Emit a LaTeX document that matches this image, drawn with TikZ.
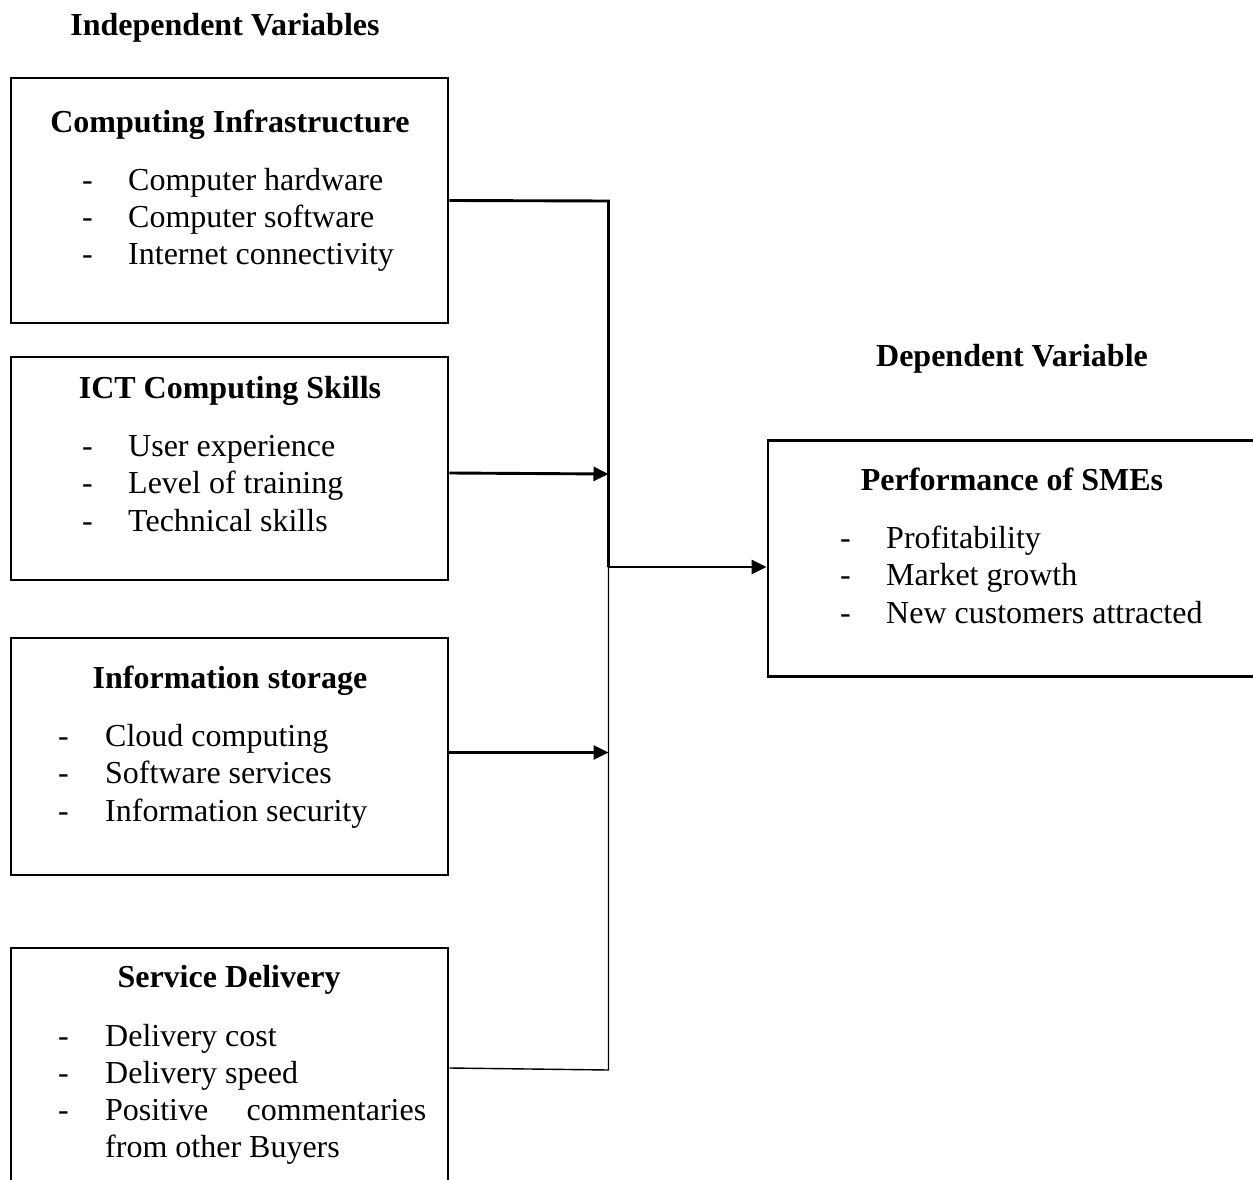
\documentclass[tikz,border=0pt]{standalone}
\usepackage{fontspec}
\setmainfont{Liberation Serif}
\usetikzlibrary{arrows.meta,calc}
\tikzset{
  txt/.style={inner sep=0pt, font=\fontsize{32}{38}\selectfont},
  ttl/.style={txt, anchor=base, font=\fontsize{32}{38}\selectfont\bfseries},
  itm/.style={txt, anchor=base west},
  boxx/.style={draw, line width=2.9pt, rectangle, inner sep=0pt},
  heavy/.style={line width=2.9pt},
  light/.style={line width=1.4pt},
  tip/.style={-{Triangle[length=15pt,width=14pt]}}
}
\begin{document}
\begin{tikzpicture}[x=1pt,y=-1pt]
\useasboundingbox (0,0) rectangle (1253,1180);
\clip (0,0) rectangle (1253,1180);
\fill[white] (0,0) rectangle (1253,1180);

% headings
\node[ttl] (hind) at (225,36) {Independent Variables};
\node[ttl] (hdep) at (1012,366) {Dependent Variable};

% boxes
\node[boxx, minimum width=437pt, minimum height=245pt] (b1) at (229.5,200.5) {};
\node[boxx, minimum width=437pt, minimum height=223pt] (b2) at (229.5,468.5) {};
\node[boxx, minimum width=437pt, minimum height=237pt] (b3) at (229.5,756.5) {};
\node[boxx, minimum width=437pt, minimum height=270pt] (b4) at (229.5,1083) {};
\node[boxx, minimum width=540pt, minimum height=236pt] (b5) at (1038,558.5) {};

% box 1
\node[ttl] (t1) at (230,132) {Computing Infrastructure};
\node[itm] (d11) at (82,190) {-};  \node[itm] (i11) at (128,190) {Computer hardware};
\node[itm] (d12) at (82,227) {-};  \node[itm] (i12) at (128,227) {Computer software};
\node[itm] (d13) at (82,264) {-};  \node[itm] (i13) at (128,264) {Internet connectivity};

% box 2
\node[ttl] (t2) at (230,398) {ICT Computing Skills};
\node[itm] (d21) at (82,456) {-};  \node[itm] (i21) at (128,456) {User experience};
\node[itm] (d22) at (82,493.5) {-};  \node[itm] (i22) at (128,493.5) {Level of training};
\node[itm] (d23) at (82,531) {-};  \node[itm] (i23) at (128,531) {Technical skills};

% box 3
\node[ttl] (t3) at (230,688) {Information storage};
\node[itm] (d31) at (58,746) {-};  \node[itm] (i31) at (105,746) {Cloud computing};
\node[itm] (d32) at (58,783.5) {-};  \node[itm] (i32) at (105,783.5) {Software services};
\node[itm] (d33) at (58,821) {-};  \node[itm] (i33) at (105,821) {Information security};

% box 4
\node[ttl] (t4) at (229,987) {Service Delivery};
\node[itm] (d41) at (58,1046) {-};  \node[itm] (i41) at (105,1046) {Delivery cost};
\node[itm] (d42) at (58,1083) {-};  \node[itm] (i42) at (105,1083) {Delivery speed};
\node[itm] (d43) at (58,1120) {-};  \node[itm] (i43) at (105,1120) {\makebox[321pt][s]{Positive\hfill commentaries}};
\node[itm] (i44) at (105,1157) {from other Buyers};

% box 5
\node[ttl] (t5) at (1012,490) {Performance of SMEs};
\node[itm] (d51) at (840,548) {-};  \node[itm] (i51) at (886,548) {Profitability};
\node[itm] (d52) at (840,585.5) {-};  \node[itm] (i52) at (886,585.5) {Market growth};
\node[itm] (d53) at (840,623) {-};  \node[itm] (i53) at (886,623) {New customers attracted};

% junctions on the collecting line
\coordinate (j1) at (608.5,201);
\coordinate (j2) at (608.5,474);
\coordinate (j3) at (608.5,567);
\coordinate (j4) at (608.5,752.5);
\coordinate (j5) at (608.5,1070);

% connectors
\draw[heavy] (b1.east) -- (j1) -- (j3);
\draw[heavy, tip] ([yshift=-4.5pt]b2.east) -- (j2);
\draw[heavy, tip] (j3) -- (j3 -| b5.west);
\draw[heavy, tip] (b3.east |- j4) -- (j4);
\draw[light] ([yshift=2pt]b4.east |- j5) -- (j5) -- (j3);
\end{tikzpicture}
\end{document}
